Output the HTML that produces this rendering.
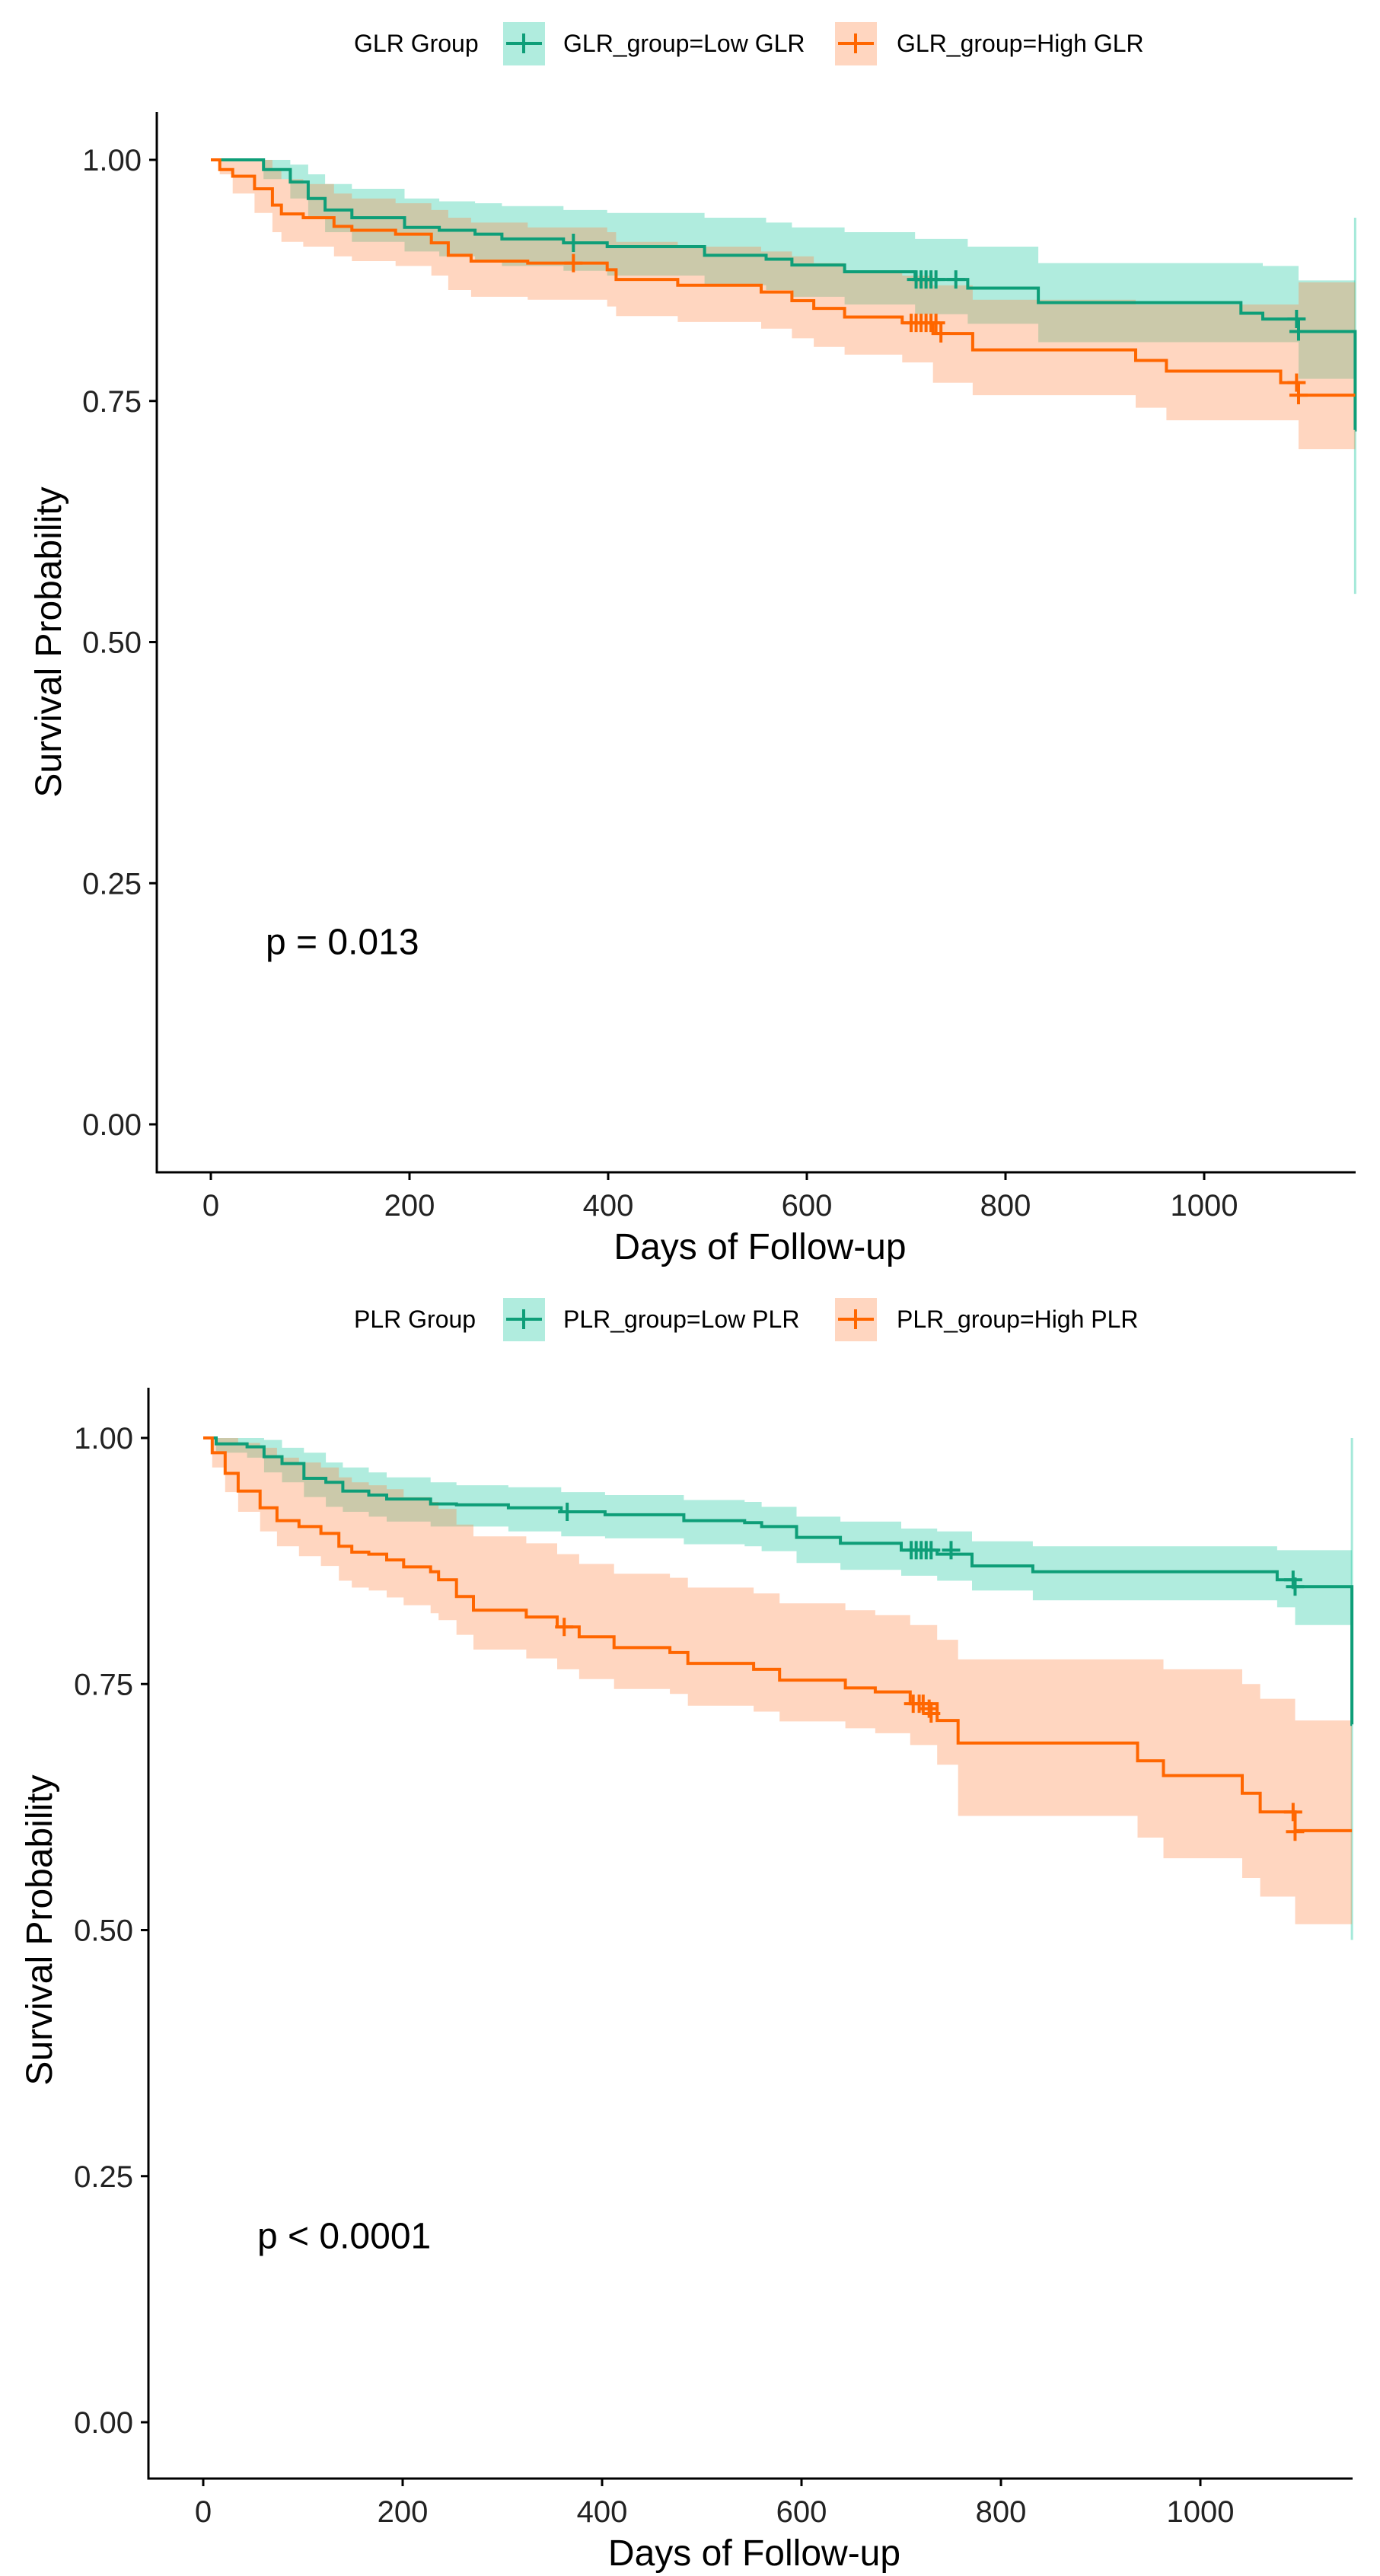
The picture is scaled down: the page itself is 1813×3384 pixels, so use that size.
<!DOCTYPE html>
<html><head><meta charset="utf-8">
<style>
html,body{margin:0;padding:0;background:#fff;}
svg{display:block;font-family:"Liberation Sans",Arial,sans-serif;}
</style></head>
<body>
<svg id="fig" width="1813" height="3384" viewBox="0 0 1813 3384" xmlns="http://www.w3.org/2000/svg"></svg>
<script>
// ---------- Chart 1: GLR ----------
const glrLowDays = [0,53,80,98,115,142,195,230,266,293,355,399,497,559,585,638,709,762,833,1037,1059,1095,1152];
const glrLowSurv = [1,0.99,0.977,0.96,0.948,0.94,0.93,0.927,0.923,0.918,0.914,0.91,0.901,0.897,0.891,0.884,0.876,0.867,0.852,0.841,0.835,0.822,0.72];
const glrLowUpper = [1,1,0.995,0.985,0.975,0.97,0.96,0.957,0.955,0.952,0.948,0.945,0.94,0.935,0.93,0.925,0.918,0.91,0.893,0.893,0.89,0.875,0.94];
const glrLowLower = [1,0.98,0.96,0.94,0.925,0.915,0.905,0.9,0.895,0.89,0.885,0.88,0.87,0.865,0.858,0.85,0.84,0.83,0.811,0.811,0.811,0.773,0.55];
const glrLowCensorDays = [365,710,715,720,725,730,750,1093,1095];
const glrLowCensorSurv = [0.914,0.876,0.876,0.876,0.876,0.876,0.876,0.835,0.822];

const glrHighDays = [0,9,22,44,62,71,93,124,142,186,222,239,262,319,399,408,470,554,585,607,638,696,727,767,931,962,1077,1095];
const glrHighSurv = [1,0.99,0.983,0.97,0.953,0.944,0.94,0.931,0.927,0.923,0.914,0.901,0.895,0.893,0.886,0.876,0.87,0.863,0.854,0.846,0.837,0.831,0.82,0.803,0.792,0.781,0.769,0.756];
const glrHighUpper = [1,1,1,1,0.99,0.98,0.975,0.965,0.96,0.955,0.948,0.94,0.935,0.93,0.925,0.915,0.91,0.905,0.9,0.893,0.885,0.88,0.87,0.855,0.85,0.85,0.85,0.873];
const glrHighLower = [1,0.985,0.965,0.945,0.925,0.915,0.91,0.9,0.895,0.89,0.88,0.865,0.858,0.855,0.848,0.838,0.832,0.825,0.815,0.806,0.798,0.79,0.769,0.756,0.743,0.73,0.73,0.7];
const glrHighCensorDays = [365,705,710,715,720,725,730,735,1093,1095];
const glrHighCensorSurv = [0.893,0.831,0.831,0.831,0.831,0.831,0.831,0.82,0.769,0.756];

// ---------- Chart 2: PLR ----------
const plrLowDays = [0,13,44,61,79,101,123,140,166,184,228,254,306,359,403,482,543,560,595,639,700,736,771,832,1077,1095,1152];
const plrLowSurv = [1,0.994,0.991,0.981,0.974,0.959,0.955,0.946,0.942,0.938,0.933,0.932,0.929,0.925,0.922,0.916,0.914,0.91,0.899,0.893,0.886,0.882,0.87,0.864,0.856,0.849,0.709];
const plrLowUpper = [1,1,1,0.998,0.99,0.985,0.975,0.97,0.965,0.96,0.955,0.952,0.95,0.945,0.942,0.937,0.935,0.93,0.92,0.915,0.908,0.905,0.895,0.89,0.886,0.886,1.0];
const plrLowLower = [1,0.985,0.98,0.965,0.955,0.94,0.93,0.925,0.92,0.915,0.91,0.91,0.905,0.9,0.898,0.892,0.89,0.885,0.873,0.866,0.86,0.855,0.845,0.835,0.828,0.81,0.49];
const plrLowCensorDays = [365,710,715,720,725,730,750,1093,1095];
const plrLowCensorSurv = [0.925,0.886,0.886,0.886,0.886,0.886,0.886,0.856,0.849];

const plrHighDays = [0,9,22,35,57,74,96,118,136,149,166,184,201,228,236,254,271,324,355,377,412,468,486,552,578,644,674,709,736,757,937,963,1042,1060,1095];
const plrHighSurv = [1,0.985,0.964,0.946,0.929,0.916,0.91,0.903,0.89,0.884,0.882,0.876,0.869,0.864,0.856,0.839,0.825,0.818,0.808,0.798,0.787,0.782,0.771,0.765,0.754,0.746,0.742,0.73,0.713,0.69,0.672,0.657,0.639,0.62,0.601];
const plrHighUpper = [1,1,1,0.995,0.99,0.98,0.975,0.97,0.96,0.955,0.952,0.948,0.94,0.935,0.928,0.912,0.9,0.893,0.882,0.872,0.862,0.858,0.848,0.842,0.832,0.825,0.82,0.81,0.795,0.775,0.775,0.765,0.75,0.735,0.713];
const plrHighLower = [1,0.97,0.945,0.925,0.905,0.89,0.88,0.87,0.855,0.848,0.845,0.838,0.83,0.822,0.815,0.8,0.785,0.776,0.765,0.755,0.745,0.74,0.728,0.722,0.712,0.705,0.7,0.688,0.668,0.616,0.594,0.573,0.553,0.534,0.506];
const plrHighCensorDays = [362,712,718,722,728,730,1093,1095];
const plrHighCensorSurv = [0.808,0.73,0.73,0.73,0.725,0.72,0.62,0.6];

const xTicks = [0,200,400,600,800,1000];
const yTicks = [0,0.25,0.5,0.75,1.0];
const yTickLabels = ["0.00","0.25","0.50","0.75","1.00"];

const NS = "http://www.w3.org/2000/svg";
const svg = document.getElementById('fig');
const GREEN = "#0e9e78", ORANGE = "#ff6600", GREEN_FILL = "#1ec9a0", ORANGE_FILL = "#ff8a4a";

function mk(tag, attrs, parent){
  const e = document.createElementNS(NS, tag);
  for (const k in attrs) e.setAttribute(k, attrs[k]);
  (parent||svg).appendChild(e);
  return e;
}

function drawChart(cfg){
  const g = mk('g', {});
  
  
  const xs = d => cfg.x0 + cfg.xk * d;
  const ys = v => cfg.y0 - cfg.yk * v;
  const xEnd = xs(1152);

  // bands
  cfg.series.forEach(s => {
    let top = [], bot = [];
    for (let i = 0; i < s.days.length; i++) {
      const xa = xs(s.days[i]);
      const xb = i < s.days.length - 1 ? xs(s.days[i+1]) : xEnd;
      top.push([xa, ys(s.upper[i])], [xb, ys(s.upper[i])]);
      bot.push([xa, ys(s.lower[i])], [xb, ys(s.lower[i])]);
    }
    const pts = top.concat(bot.reverse()).map(p => p[0].toFixed(1)+','+p[1].toFixed(1)).join(' ');
    const band = mk('polygon', {points: pts, fill: s.fill, 'fill-opacity': 0.35, stroke: 'none'}, g);
    
    
    // last step vertical band line
    const li = s.days.length - 1;
    if (s.days[li] >= 1150) {
      const vl = mk('line', {x1: xs(s.days[li]), x2: xs(s.days[li]), y1: ys(s.upper[li]), y2: ys(s.lower[li]), stroke: s.fill, 'stroke-opacity': 0.4, 'stroke-width': 3}, g);
      
      
    }
  });
  // lines
  cfg.series.forEach(s => {
    let d = 'M' + xs(s.days[0]) + ',' + ys(s.surv[0]);
    for (let i = 1; i < s.days.length; i++) {
      d += ' H' + xs(s.days[i]).toFixed(1) + ' V' + ys(s.surv[i]).toFixed(1);
    }
    d += ' H' + xEnd;
    const p = mk('path', {d: d, fill: 'none', stroke: s.color, 'stroke-width': 4}, g);
    
    
    for (let i = 0; i < s.cDays.length; i++) {
      const cx = xs(s.cDays[i]), cy = ys(s.cSurv[i]);
      const c = mk('path', {d: `M${cx-12},${cy} H${cx+12} M${cx},${cy-12} V${cy+12}`, stroke: s.color, 'stroke-width': 4}, g);
      
      
    }
  });
  // axes
  const ax = mk('path', {d: `M${cfg.axL},${cfg.axT} V${cfg.axB} H${cfg.axR}`, fill: 'none', stroke: '#000', 'stroke-width': 3}, g);
  
  
  yTicks.forEach((v, i) => {
    const y = ys(v);
    mk('line', {x1: cfg.axL - 10, x2: cfg.axL, y1: y, y2: y, stroke: '#000', 'stroke-width': 3}, g);
    const t = mk('text', {x: cfg.axL - 20, y: y + 14, 'text-anchor': 'end', 'font-size': 40, fill: '#222'}, g);
    t.textContent = yTickLabels[i];
    
    
  });
  xTicks.forEach(v => {
    const x = xs(v);
    mk('line', {x1: x, x2: x, y1: cfg.axB, y2: cfg.axB + 10, stroke: '#000', 'stroke-width': 3}, g);
    const t = mk('text', {x: x, y: cfg.axB + 57, 'text-anchor': 'middle', 'font-size': 40, fill: '#222'}, g);
    t.textContent = String(v);
    
    
  });
  const xt = mk('text', {x: (cfg.axL + cfg.axR)/2 + 5, y: cfg.axB + 114, 'text-anchor': 'middle', 'font-size': 48, fill: '#000'}, g);
  xt.textContent = 'Days of Follow-up';
  
  
  const yc = (ys(0) + ys(1)) / 2;
  const yt = mk('text', {x: 0, y: 0, 'text-anchor': 'middle', 'font-size': 48, fill: '#000', transform: `translate(${cfg.yTitleX},${yc}) rotate(-90)`}, g);
  yt.textContent = 'Survival Probability';
  
  
  const pv = mk('text', {x: cfg.pX, y: ys(0.19) + 17, 'font-size': 48, fill: '#000'}, g);
  pv.textContent = cfg.pText;
  
  
  // legend
  const ly = cfg.legY;
  const lt = mk('text', {x: 465, y: ly + 11, 'font-size': 32, fill: '#000'}, g);
  lt.textContent = cfg.legTitle;
  
  
  cfg.series.forEach((s, i) => {
    const bx = i === 0 ? 661 : 1097;
    const tx = i === 0 ? 740 : 1178;
    const kb = mk('rect', {x: bx, y: ly - 28, width: 55, height: 57, fill: s.fill, 'fill-opacity': 0.35}, g);
    
    
    mk('path', {d: `M${bx+4},${ly} H${bx+51} M${bx+27},${ly-13} V${ly+13}`, stroke: s.color, 'stroke-width': 4}, g);
    const t = mk('text', {x: tx, y: ly + 11, 'font-size': 32, fill: '#000'}, g);
    t.textContent = s.label;
    
    
  });
}

drawChart({
  name: 'glr-survival-chart', x0: 277, xk: 1.305, y0: 1477, yk: 1267,
  axL: 206, axT: 147, axB: 1540, axR: 1781, yTitleX: 80, pX: 349, pText: 'p = 0.013',
  legY: 57, legTitle: 'GLR Group',
  series: [
    {key: 'low-glr', label: 'GLR_group=Low GLR', color: GREEN, fill: GREEN_FILL, days: glrLowDays, surv: glrLowSurv, upper: glrLowUpper, lower: glrLowLower, cDays: glrLowCensorDays, cSurv: glrLowCensorSurv},
    {key: 'high-glr', label: 'GLR_group=High GLR', color: ORANGE, fill: ORANGE_FILL, days: glrHighDays, surv: glrHighSurv, upper: glrHighUpper, lower: glrHighLower, cDays: glrHighCensorDays, cSurv: glrHighCensorSurv}
  ]
});
drawChart({
  name: 'plr-survival-chart', x0: 267, xk: 1.31, y0: 3182, yk: 1293,
  axL: 195, axT: 1823, axB: 3256, axR: 1777, yTitleX: 68, pX: 338, pText: 'p < 0.0001',
  legY: 1733, legTitle: 'PLR Group',
  series: [
    {key: 'low-plr', label: 'PLR_group=Low PLR', color: GREEN, fill: GREEN_FILL, days: plrLowDays, surv: plrLowSurv, upper: plrLowUpper, lower: plrLowLower, cDays: plrLowCensorDays, cSurv: plrLowCensorSurv},
    {key: 'high-plr', label: 'PLR_group=High PLR', color: ORANGE, fill: ORANGE_FILL, days: plrHighDays, surv: plrHighSurv, upper: plrHighUpper, lower: plrHighLower, cDays: plrHighCensorDays, cSurv: plrHighCensorSurv}
  ]
});
</script>
</body></html>
